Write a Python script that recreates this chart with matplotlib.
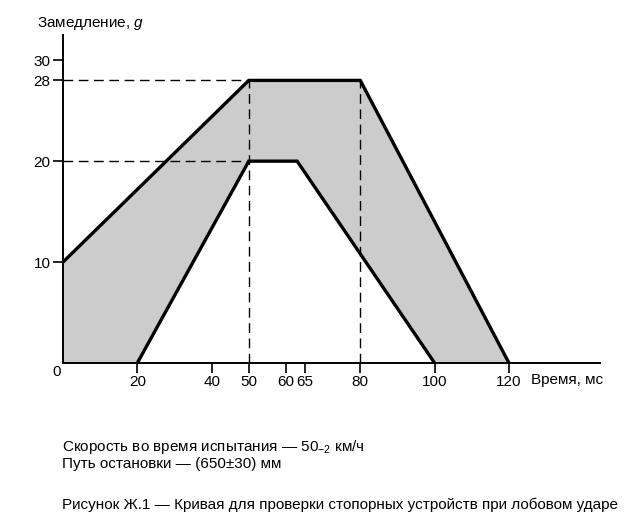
import matplotlib.pyplot as plt

plt.rcParams['font.family'] = ['Liberation Sans', 'DejaVu Sans']
plt.rcParams['mathtext.fontset'] = 'custom'
plt.rcParams['mathtext.rm'] = 'Liberation Sans'
plt.rcParams['mathtext.it'] = 'Liberation Sans:italic'

# corridor boundaries (time, ms -> deceleration, g)
upper_t = [0, 50, 80, 120]
upper_g = [10, 28, 28, 0]
lower_t = [20, 50, 63, 100]
lower_g = [0, 20, 20, 0]

xticks = [20, 40, 50, 60, 65, 80, 100, 120]
yticks = [10, 20, 28, 30]
ref_g = [28, 20]      # horizontal dashed guides, up to t=50
ref_t = [50, 80]      # vertical dashed guides, up to g=28

fig = plt.figure(figsize=(6.4, 5.29), dpi=100)
ax = fig.add_axes([63 / 640, 1 - 363 / 529, (600 - 63) / 640, (363 - 35) / 529])
ax.set_xlim(0, 144.5)
ax.set_ylim(0, 32.5)

# gray band
poly_t = upper_t + lower_t[::-1] + [0]
poly_g = upper_g + lower_g[::-1] + [0]
ax.fill(poly_t, poly_g, color='#cccccc', lw=0, zorder=1)

ax.plot(upper_t, upper_g, color='black', lw=2.4, solid_joinstyle='miter', zorder=3)
ax.plot(lower_t, lower_g, color='black', lw=2.4, solid_joinstyle='miter', zorder=3)

dash = (0, (7, 4))
for g in ref_g:
    ax.plot([0, 50], [g, g], color='black', lw=1, linestyle=dash, zorder=2)
for t in ref_t:
    ax.plot([t, t], [0, 28], color='black', lw=1, linestyle=dash, zorder=2)

for s in ['top', 'right']:
    ax.spines[s].set_visible(False)
for s in ['left', 'bottom']:
    ax.spines[s].set_linewidth(1.4)

ax.set_xticks(xticks)
ax.set_xticklabels([str(t) for t in xticks])
ax.set_yticks(yticks)
ax.set_yticklabels([str(g) for g in yticks])
ax.tick_params(axis='both', direction='out', length=7, width=1.2, labelsize=11, pad=2)

ax.text(-0.6, -0.2, '0', ha='right', va='top', fontsize=11)
ax.text(126, -1.0, 'Время, мс', ha='left', va='top', fontsize=11)

fig.text(37 / 640, 1 - 24 / 529, 'Замедление, $\\it{g}$', ha='left', va='center', fontsize=11)

fig.text(62 / 640, 1 - 447 / 529, 'Скорость во время испытания — 50$_{-2}$ км/ч',
         ha='left', va='center', fontsize=11)
fig.text(62 / 640, 1 - 464 / 529, 'Путь остановки — (650±30) мм',
         ha='left', va='center', fontsize=11)
fig.text(62 / 640, 1 - 505 / 529,
         'Рисунок Ж.1 — Кривая для проверки стопорных устройств при лобовом ударе',
         ha='left', va='center', fontsize=11)

fig.savefig('out.png', dpi=100)
